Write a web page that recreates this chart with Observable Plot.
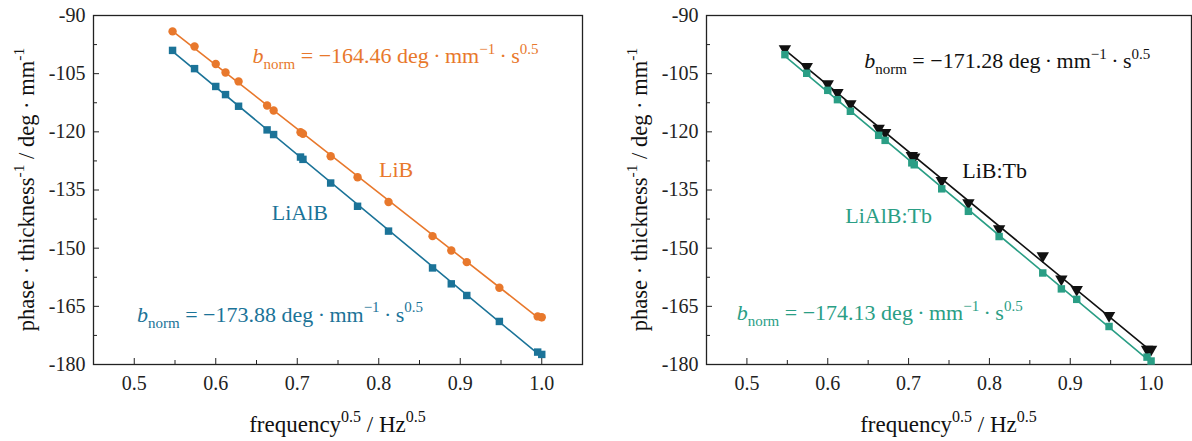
<!DOCTYPE html>
<html><head><meta charset="utf-8">
<script src="https://cdn.jsdelivr.net/npm/d3@7"></script>
<script src="https://cdn.jsdelivr.net/npm/@observablehq/plot@0.6"></script>
<style>
body{margin:0;background:#fff;}
#wrap{position:relative;width:1192px;height:441px;overflow:hidden;}
#left{position:absolute;left:0;top:0;}
#right{position:absolute;left:613px;top:0;}
</style></head><body>
<div id="wrap"><div id="left"></div><div id="right"></div></div>
<script>
// ---- data ----
const freqSqrt     = [0.547,0.574,0.600,0.612,0.628,0.663,0.671,0.704,0.707,0.741,0.774,0.812,0.866,0.889,0.908,0.948,0.995,1.000];
const libPhase     = [-94.1,-98.0,-102.5,-104.7,-107.0,-113.2,-114.5,-120.1,-120.5,-126.3,-131.7,-138.1,-146.9,-150.6,-153.6,-160.2,-167.6,-167.8];
const lialbPhase   = [-99.0,-103.7,-108.3,-110.4,-113.4,-119.5,-120.7,-126.5,-127.1,-133.2,-139.2,-145.6,-155.1,-159.2,-162.2,-168.9,-176.8,-177.4];
const libTbPhase   = [-98.6,-103.2,-107.6,-109.9,-112.8,-119.1,-120.2,-126.1,-126.5,-132.6,-138.3,-145.0,-152.0,-158.0,-160.7,-167.4,-176.1,-176.1];
const lialbTbPhase = [-100.1,-104.9,-109.3,-111.7,-114.7,-120.9,-122.2,-128.0,-128.5,-134.7,-140.5,-147.0,-156.4,-160.5,-163.2,-170.2,-178.1,-179.1];
const xTicks       = [0.5,0.6,0.7,0.8,0.9,1.0];
const xMinorTicks  = [0.55,0.65,0.75,0.85,0.95];
const yTicks       = [-90,-105,-120,-135,-150,-165,-180];
const yMinorTicks  = [-97.5,-112.5,-127.5,-142.5,-157.5,-172.5];
const slopes = {lib:"−164.46", lialb:"−173.88", libTb:"−171.28", lialbTb:"−174.13"};

const C = {orange:"#E8782C", blue:"#1B7398", green:"#2A9E85", black:"#111111"};
const FONT = "'Liberation Serif','Times New Roman',serif";

const table = ys => freqSqrt.map((x,i)=>({x, y: ys[i]}));

function panel(width, marginRight, seriesMarks){
  return Plot.plot({
    width, height:441, marginTop:15, marginBottom:77, marginLeft:93, marginRight,
    style:{fontFamily:FONT, fontSize:"20px", color:"#222", background:"#fff", overflow:"visible"},
    x:{domain:[0.45,1.05]}, y:{domain:[-180,-90]},
    marks:[
      Plot.axisX(xTicks,{tickSize:-6, tickPadding:17, tickFormat:d=>d.toFixed(1), label:null, fontSize:20, stroke:"#222"}),
      Plot.axisX(xMinorTicks,{tickSize:-4, tickFormat:()=>"", label:null, stroke:"#222"}),
      Plot.axisY(yTicks,{tickSize:-6, tickPadding:14, tickFormat:d=>String(d), label:null, fontSize:20, stroke:"#222"}),
      Plot.axisY(yMinorTicks,{tickSize:-4, tickFormat:()=>"", label:null, stroke:"#222"}),
      Plot.frame({stroke:"#222", strokeWidth:1.3}),
      ...seriesMarks
    ]
  });
}

function series(data, color, symbol, r, rotate=0){
  return [
    Plot.linearRegressionY(data,{x:"x", y:"y", stroke:color, ci:0, strokeWidth:1.6}),
    Plot.dot(data,{x:"x", y:"y", symbol, fill:color, stroke:"none", r, rotate})
  ];
}

// rich text: parts = [[text, kind]] kind: n normal, i italic, sub, sup
function rich(svg, x, y, parts, {fill="#111", size=22, small=15, anchor="start", transform=null}={}){
  const t = d3.select(svg).append("text")
    .attr("x", x).attr("y", y).attr("fill", fill)
    .attr("font-family", FONT).attr("font-size", size).attr("text-anchor", anchor);
  if (transform) t.attr("transform", transform);
  let shift = 0;
  const subOff = size*0.28, supOff = -size*0.42;
  for (const [s, kind] of parts){
    const target = kind==="sub" ? subOff : kind==="sup" ? supOff : 0;
    const ts = t.append("tspan").text(s).attr("dy", target - shift);
    shift = target;
    if (kind==="i") ts.attr("font-style","italic");
    if (kind==="sub" || kind==="sup") ts.attr("font-size", small);
  }
}

function bnorm(val){
  return [["b","i"],["norm","sub"],[" = "+val+" deg\u2009·\u2009mm","n"],["−1","sup"],["\u2009·\u2009s","n"],["0.5","sup"]];
}

function titles(plot){
  const svg = plot.tagName==="svg" ? plot : plot.querySelector("svg");
  const xs = plot.scale("x"), ys = plot.scale("y");
  const cx = (xs.range[0]+xs.range[1])/2, cy = (ys.range[0]+ys.range[1])/2;
  rich(svg, cx, 432, [["frequency","n"],["0.5","sup"],[" / Hz","n"],["0.5","sup"]], {fill:"#111", size:23, small:16, anchor:"middle"});
  rich(svg, 0, 0, [["phase · thickness","n"],["-1","sup"],[" / deg · mm","n"],["-1","sup"]],
       {fill:"#111", size:22.5, small:15.5, anchor:"middle", transform:`translate(33.5,${cy}) rotate(-90)`});
  return {svg, xs, ys};
}

function label(ctx, xv, yv, parts, fill, size=22){
  rich(ctx.svg, ctx.xs.apply(xv), ctx.ys.apply(yv), parts, {fill, size, small: Math.round(size*0.7)});
}

// ---- left panel ----
const left = panel(613, 31, [
  ...series(table(libPhase), C.orange, "circle", 4.2),
  ...series(table(lialbPhase), C.blue, "square", 4.2)
]);
document.getElementById("left").appendChild(left);
const L = titles(left);
label(L, 0.6458, -102.46, bnorm(slopes.lib), C.orange);
label(L, 0.8009, -131.70, [["LiB","n"]], C.orange, 22);
label(L, 0.6693, -142.87, [["LiAlB","n"]], C.blue, 22);
label(L, 0.5040, -169.09, bnorm(slopes.lialb), C.blue);

// ---- right panel ----
const right = panel(579, 1, [
  ...series(table(libTbPhase), C.black, "triangle", 4.6, 180),
  ...series(table(lialbTbPhase), C.green, "square", 4.2)
]);
document.getElementById("right").appendChild(right);
const R = titles(right);
label(R, 0.6457, -103.74, bnorm(slopes.libTb), C.black);
label(R, 0.7670, -132.11, [["LiB:Tb","n"]], C.black, 22);
label(R, 0.6223, -143.56, [["LiAlB:Tb","n"]], C.green, 22);
label(R, 0.4879, -168.65, bnorm(slopes.lialbTb), C.green);
</script>
</body></html>
